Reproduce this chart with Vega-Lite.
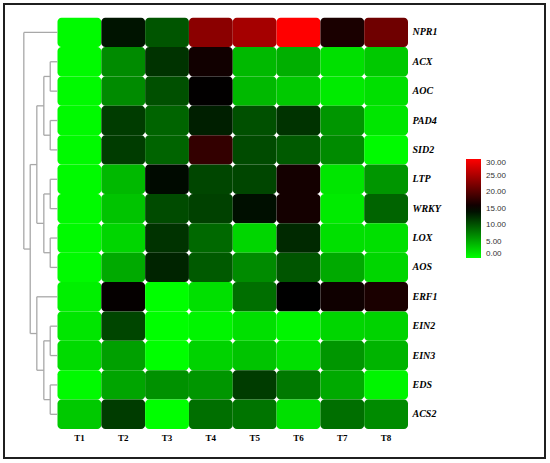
{
  "$schema": "https://vega.github.io/schema/vega-lite/v6.json",
  "width": 541,
  "height": 454,
  "autosize": {"type": "none"},
  "padding": {"left": 4, "top": 4, "right": 5, "bottom": 5},
  "background": "#ffffff",
  "config": {
    "view": {"stroke": "#1f1f1f", "strokeWidth": 2},
    "axis": {"grid": false, "ticks": false, "domain": false, "title": null}
  },
  "resolve": {"scale": {"x": "independent", "y": "independent"}},
  "layer": [
    {
      "data": {
        "values": [
          {"gene": "NPR1", "T1": 0.3, "T2": 13.8, "T3": 10.0, "T4": 23.2, "T5": 24.7, "T6": 30.0, "T7": 16.5, "T8": 21.5},
          {"gene": "ACX", "T1": 0.3, "T2": 6.8, "T3": 12.0, "T4": 16.0, "T5": 4.1, "T6": 4.7, "T7": 1.8, "T8": 3.2},
          {"gene": "AOC", "T1": 0.3, "T2": 6.8, "T3": 10.3, "T4": 15.1, "T5": 4.1, "T6": 3.2, "T7": 1.2, "T8": 1.8},
          {"gene": "PAD4", "T1": 0.3, "T2": 11.5, "T3": 9.1, "T4": 13.2, "T5": 10.3, "T6": 12.0, "T7": 6.2, "T8": 1.5},
          {"gene": "SID2", "T1": 0.3, "T2": 11.5, "T3": 9.1, "T4": 18.0, "T5": 10.6, "T6": 9.7, "T7": 6.8, "T8": 0.3},
          {"gene": "LTP", "T1": 0.3, "T2": 4.1, "T3": 14.4, "T4": 10.9, "T5": 10.9, "T6": 16.2, "T7": 1.5, "T8": 6.2},
          {"gene": "WRKY", "T1": 0.3, "T2": 3.5, "T3": 10.6, "T4": 11.2, "T5": 14.1, "T6": 16.2, "T7": 1.2, "T8": 9.1},
          {"gene": "LOX", "T1": 0.3, "T2": 2.4, "T3": 12.0, "T4": 8.8, "T5": 2.4, "T6": 12.6, "T7": 1.8, "T8": 1.8},
          {"gene": "AOS", "T1": 0.3, "T2": 5.0, "T3": 12.9, "T4": 9.7, "T5": 6.8, "T6": 10.0, "T7": 5.0, "T8": 2.4},
          {"gene": "ERF1", "T1": 0.9, "T2": 15.3, "T3": 0.0, "T4": 1.8, "T5": 8.5, "T6": 15.0, "T7": 15.9, "T8": 16.5},
          {"gene": "EIN2", "T1": 1.5, "T2": 10.9, "T3": 0.0, "T4": 0.6, "T5": 1.8, "T6": 0.6, "T7": 2.4, "T8": 2.6},
          {"gene": "EIN3", "T1": 2.1, "T2": 5.6, "T3": 0.0, "T4": 2.6, "T5": 3.5, "T6": 1.8, "T7": 6.2, "T8": 4.4},
          {"gene": "EDS", "T1": 0.3, "T2": 5.3, "T3": 6.5, "T4": 6.2, "T5": 11.5, "T6": 7.9, "T7": 5.0, "T8": 0.6},
          {"gene": "ACS2", "T1": 3.2, "T2": 11.5, "T3": 0.0, "T4": 8.5, "T5": 8.2, "T6": 1.8, "T7": 8.5, "T8": 6.8}
        ]
      },
      "transform": [{"fold": ["T1", "T2", "T3", "T4", "T5", "T6", "T7", "T8"], "as": ["treatment", "value"]}],
      "mark": {"type": "rect", "cornerRadius": 4},
      "encoding": {
        "x": {
          "field": "treatment", "type": "nominal",
          "scale": {"domain": ["T1", "T2", "T3", "T4", "T5", "T6", "T7", "T8"], "paddingInner": 0, "paddingOuter": 0, "range": [53.5, 404]},
          "axis": {"orient": "bottom", "offset": -29, "labelPadding": 4, "labelAngle": 0, "labelFont": "Liberation Serif", "labelFontWeight": "bold", "labelFontSize": 9, "labelColor": "#000000"}
        },
        "y": {
          "field": "gene", "type": "nominal",
          "scale": {"domain": ["NPR1", "ACX", "AOC", "PAD4", "SID2", "LTP", "WRKY", "LOX", "AOS", "ERF1", "EIN2", "EIN3", "EDS", "ACS2"], "paddingInner": 0, "paddingOuter": 0, "range": [13.7, 425]},
          "axis": {"orient": "right", "offset": -137, "labelPadding": 4, "labelFont": "Liberation Serif", "labelFontWeight": "bold", "labelFontStyle": "italic", "labelFontSize": 10, "labelColor": "#000000"}
        },
        "color": {
          "field": "value", "type": "quantitative",
          "scale": {"domain": [0, 15, 30], "range": ["#00ff00", "#000000", "#ff0000"], "interpolate": "rgb"},
          "legend": {
            "title": null, "orient": "none", "legendX": 462, "legendY": 155, "padding": 0,
            "direction": "vertical", "gradientLength": 99, "gradientThickness": 15, "gradientStrokeWidth": 0,
            "values": [0, 5, 10, 15, 20, 25, 30], "format": ".2f",
            "labelFont": "Liberation Sans", "labelFontSize": 8, "labelColor": "#333333", "labelOffset": 5, "labelOverlap": false
          }
        }
      }
    },
    {
      "data": {
        "values": [
          {"x1": 1.08, "y1": 1.5, "x2": 1.08, "y2": 2.5},
          {"x1": 0, "y1": 1.5, "x2": 1.08, "y2": 1.5},
          {"x1": 0, "y1": 2.5, "x2": 1.08, "y2": 2.5},
          {"x1": 1.08, "y1": 3.5, "x2": 1.08, "y2": 4.5},
          {"x1": 0, "y1": 3.5, "x2": 1.08, "y2": 3.5},
          {"x1": 0, "y1": 4.5, "x2": 1.08, "y2": 4.5},
          {"x1": 2.03, "y1": 2.0, "x2": 2.03, "y2": 4.0},
          {"x1": 1.08, "y1": 2.0, "x2": 2.03, "y2": 2.0},
          {"x1": 1.08, "y1": 4.0, "x2": 2.03, "y2": 4.0},
          {"x1": 1.08, "y1": 5.5, "x2": 1.08, "y2": 6.5},
          {"x1": 0, "y1": 5.5, "x2": 1.08, "y2": 5.5},
          {"x1": 0, "y1": 6.5, "x2": 1.08, "y2": 6.5},
          {"x1": 1.08, "y1": 7.5, "x2": 1.08, "y2": 8.5},
          {"x1": 0, "y1": 7.5, "x2": 1.08, "y2": 7.5},
          {"x1": 0, "y1": 8.5, "x2": 1.08, "y2": 8.5},
          {"x1": 2.03, "y1": 6.0, "x2": 2.03, "y2": 8.0},
          {"x1": 1.08, "y1": 6.0, "x2": 2.03, "y2": 6.0},
          {"x1": 1.08, "y1": 8.0, "x2": 2.03, "y2": 8.0},
          {"x1": 3.07, "y1": 3.0, "x2": 3.07, "y2": 7.0},
          {"x1": 2.03, "y1": 3.0, "x2": 3.07, "y2": 3.0},
          {"x1": 2.03, "y1": 7.0, "x2": 3.07, "y2": 7.0},
          {"x1": 1.08, "y1": 10.5, "x2": 1.08, "y2": 11.5},
          {"x1": 0, "y1": 10.5, "x2": 1.08, "y2": 10.5},
          {"x1": 0, "y1": 11.5, "x2": 1.08, "y2": 11.5},
          {"x1": 1.08, "y1": 12.5, "x2": 1.08, "y2": 13.5},
          {"x1": 0, "y1": 12.5, "x2": 1.08, "y2": 12.5},
          {"x1": 0, "y1": 13.5, "x2": 1.08, "y2": 13.5},
          {"x1": 2.03, "y1": 11.0, "x2": 2.03, "y2": 13.0},
          {"x1": 1.08, "y1": 11.0, "x2": 2.03, "y2": 11.0},
          {"x1": 1.08, "y1": 13.0, "x2": 2.03, "y2": 13.0},
          {"x1": 3.07, "y1": 9.5, "x2": 3.07, "y2": 12.0},
          {"x1": 0, "y1": 9.5, "x2": 3.07, "y2": 9.5},
          {"x1": 2.03, "y1": 12.0, "x2": 3.07, "y2": 12.0},
          {"x1": 4.05, "y1": 5.0, "x2": 4.05, "y2": 10.75},
          {"x1": 3.07, "y1": 5.0, "x2": 4.05, "y2": 5.0},
          {"x1": 3.07, "y1": 10.75, "x2": 4.05, "y2": 10.75},
          {"x1": 5.0, "y1": 0.5, "x2": 5.0, "y2": 7.875},
          {"x1": 0, "y1": 0.5, "x2": 5.0, "y2": 0.5},
          {"x1": 4.05, "y1": 7.875, "x2": 5.0, "y2": 7.875}
        ]
      },
      "mark": {"type": "rule", "color": "#a8a8a8", "strokeWidth": 1.3},
      "encoding": {
        "x": {"field": "x1", "type": "quantitative", "scale": {"domain": [-72.33, 7.94], "reverse": true, "nice": false, "zero": false}, "axis": null},
        "x2": {"field": "x2"},
        "y": {"field": "y1", "type": "quantitative", "scale": {"domain": [-0.466, 14.987], "reverse": true, "nice": false, "zero": false}, "axis": null},
        "y2": {"field": "y2"}
      }
    }
  ]
}
